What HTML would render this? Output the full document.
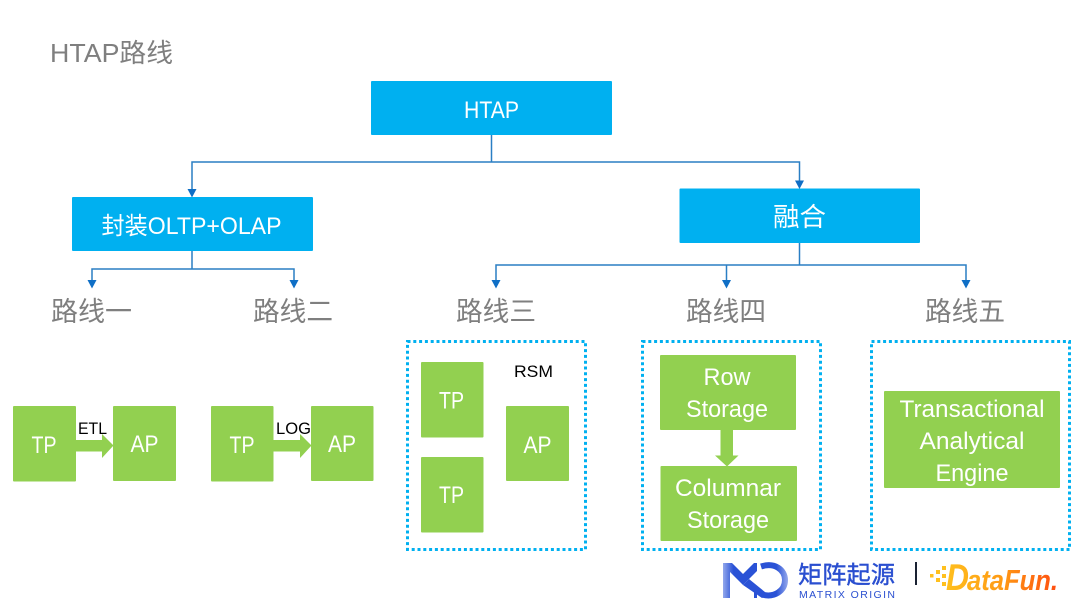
<!DOCTYPE html>
<html lang="zh">
<head>
<meta charset="utf-8">
<title>HTAP路线</title>
<style>
html,body{margin:0;padding:0;background:#fff;width:1080px;height:608px;overflow:hidden}
svg{display:block}
text{font-family:"Liberation Sans","Noto Sans CJK SC",sans-serif}
.w{fill:#fff;text-anchor:middle}
.g{fill:#7f7f7f;font-size:27px}
.b{fill:#000;font-size:17px}
.box{fill:#00b0f0}
.gr{fill:#92d050}
.ln{fill:none;stroke:#2a7fc4;stroke-width:1.5}
.ah{fill:#0f6fc6}
.dot{fill:none;stroke:#00b0f0;stroke-width:3;stroke-dasharray:3 2.8}
</style>
</head>
<body>
<svg width="1080" height="608" viewBox="0 0 1080 608" xmlns="http://www.w3.org/2000/svg">
<defs>
<linearGradient id="df" gradientUnits="userSpaceOnUse" x1="945" x2="1058" y1="0" y2="0"><stop offset="0" stop-color="#ffc01e"/><stop offset="0.5" stop-color="#ff9a14"/><stop offset="1" stop-color="#ff4d10"/></linearGradient>
<linearGradient id="mo1" gradientUnits="userSpaceOnUse" x1="722" x2="745" y1="0" y2="0"><stop offset="0" stop-color="#9db0ee"/><stop offset="0.5" stop-color="#2a52d6"/><stop offset="1" stop-color="#2a52d6"/></linearGradient>
<linearGradient id="mo2" gradientUnits="userSpaceOnUse" x1="760" x2="790" y1="0" y2="0"><stop offset="0" stop-color="#2a52d6"/><stop offset="0.55" stop-color="#2a52d6"/><stop offset="1" stop-color="#a9b9f0"/></linearGradient>
</defs>

<text x="50" y="62" font-size="26" fill="#7f7f7f" textLength="123" lengthAdjust="spacingAndGlyphs">HTAP路线</text>

<!-- connectors -->
<path class="ln" d="M491.5 135V162M192 191V162H799.5V182"/>
<path class="ln" d="M192 251V269M92 282V269H294V282"/>
<path class="ln" d="M799.5 243V265M496 282V265H966V282M726.5 265V282"/>
<path class="ah" d="M187.500 189H196.500L192 197.500ZM795 180.500H804L799.500 189ZM87.500 280H96.500L92 288.500ZM289.500 280H298.500L294 288.500ZM491.500 280H500.500L496 288.500ZM722 280H731L726.500 288.500ZM961.500 280H970.500L966 288.500Z"/>

<!-- blue boxes -->
<rect class="box" x="371" y="81" width="241" height="54" rx="1"/>
<text class="w" x="491.500" y="118" font-size="24" textLength="55" lengthAdjust="spacingAndGlyphs">HTAP</text>
<rect class="box" x="72" y="197" width="241" height="54" rx="1"/>
<text class="w" x="191.500" y="234" font-size="24" textLength="180" lengthAdjust="spacingAndGlyphs">封装OLTP+OLAP</text>
<rect class="box" x="679.500" y="188.500" width="240.500" height="54.500" rx="1"/>
<text class="w" x="799.500" y="226" font-size="26" textLength="53" lengthAdjust="spacingAndGlyphs">融合</text>

<!-- route labels -->
<text class="g" x="51" y="321" textLength="81" lengthAdjust="spacingAndGlyphs">路线一</text>
<text class="g" x="253" y="321" textLength="80" lengthAdjust="spacingAndGlyphs">路线二</text>
<text class="g" x="456" y="321" textLength="80" lengthAdjust="spacingAndGlyphs">路线三</text>
<text class="g" x="686" y="321" textLength="80" lengthAdjust="spacingAndGlyphs">路线四</text>
<text class="g" x="925" y="321" textLength="80" lengthAdjust="spacingAndGlyphs">路线五</text>

<!-- route 1 -->
<path class="gr" d="M76 440H102V434L113.500 445.500L102 458V451.500H76Z"/>
<rect class="gr" x="13" y="406" width="63" height="75.500" rx="1"/>
<rect class="gr" x="113" y="406" width="63" height="75" rx="1"/>
<text class="w" x="44" y="453" font-size="24" textLength="25" lengthAdjust="spacingAndGlyphs">TP</text>
<text class="w" x="144.500" y="452" font-size="24" textLength="28" lengthAdjust="spacingAndGlyphs">AP</text>
<text class="b" x="78" y="434" textLength="29" lengthAdjust="spacingAndGlyphs">ETL</text>

<!-- route 2 -->
<path class="gr" d="M273 440H300V434L311.500 445.500L300 458V451.500H273Z"/>
<rect class="gr" x="211" y="406" width="62.500" height="75.500" rx="1"/>
<rect class="gr" x="311" y="406" width="62.500" height="75" rx="1"/>
<text class="w" x="242" y="453" font-size="24" textLength="25" lengthAdjust="spacingAndGlyphs">TP</text>
<text class="w" x="342" y="452" font-size="24" textLength="28" lengthAdjust="spacingAndGlyphs">AP</text>
<text class="b" x="276" y="434" textLength="35" lengthAdjust="spacingAndGlyphs">LOG</text>

<!-- route 3 -->
<rect class="dot" x="407.500" y="341.500" width="178" height="208"/>
<rect class="gr" x="421" y="362" width="62.500" height="75.500" rx="1"/>
<rect class="gr" x="421" y="457" width="62.500" height="75.500" rx="1"/>
<rect class="gr" x="506" y="406" width="63" height="75" rx="1"/>
<text class="w" x="451.500" y="408.500" font-size="24" textLength="25" lengthAdjust="spacingAndGlyphs">TP</text>
<text class="w" x="451.500" y="503" font-size="24" textLength="25" lengthAdjust="spacingAndGlyphs">TP</text>
<text class="w" x="537.500" y="453" font-size="24" textLength="28" lengthAdjust="spacingAndGlyphs">AP</text>
<text class="b" x="514" y="377" textLength="39" lengthAdjust="spacingAndGlyphs">RSM</text>

<!-- route 4 -->
<rect class="dot" x="642.500" y="341.500" width="178" height="208"/>
<path class="gr" d="M720.500 429H733V455.500H738.500L727 466.500L715 455.500H720.500Z"/>
<rect class="gr" x="660" y="355" width="136" height="75" rx="1"/>
<rect class="gr" x="660.500" y="466" width="136.500" height="75" rx="1"/>
<text class="w" x="727" y="385" font-size="24" textLength="47" lengthAdjust="spacingAndGlyphs">Row</text>
<text class="w" x="727" y="417" font-size="24" textLength="82" lengthAdjust="spacingAndGlyphs">Storage</text>
<text class="w" x="728" y="496" font-size="24" textLength="106" lengthAdjust="spacingAndGlyphs">Columnar</text>
<text class="w" x="728" y="528" font-size="24" textLength="82" lengthAdjust="spacingAndGlyphs">Storage</text>

<!-- route 5 -->
<rect class="dot" x="871.500" y="341.500" width="198" height="208"/>
<rect class="gr" x="884" y="391" width="176" height="97" rx="1"/>
<text class="w" x="972" y="417" font-size="24" textLength="145" lengthAdjust="spacingAndGlyphs">Transactional</text>
<text class="w" x="972" y="449" font-size="24" textLength="105" lengthAdjust="spacingAndGlyphs">Analytical</text>
<text class="w" x="972" y="481" font-size="24" textLength="73" lengthAdjust="spacingAndGlyphs">Engine</text>

<!-- logos -->
<path fill="url(#mo1)" d="M723 563H732L743 574L754 563H757V571L743 585L730 572V598H723Z"/>
<path fill="#2a52d6" d="M743 585L749 579L768 594.500L762 598Z"/>
<rect x="754" y="589" width="3" height="9" fill="#2a52d6"/>
<path fill="none" stroke="url(#mo2)" stroke-width="6" d="M761 566.500C775 562 785 570 785 580C785 591 774 598 762 594.500"/>
<text x="798" y="583" font-size="24" fill="#2a4fd0" stroke="#2a4fd0" stroke-width="0.4" textLength="97" lengthAdjust="spacingAndGlyphs">矩阵起源</text>
<text x="799" y="598" font-size="10.500" fill="#2a4fd0" textLength="96">MATRIX ORIGIN</text>
<rect x="915" y="562" width="2" height="23" fill="#1a2233"/>
<g fill="#ffc01e">
<rect x="930" y="574" width="3.500" height="3.500"/><rect x="936" y="570" width="4" height="4"/><rect x="936" y="578" width="4" height="4"/><rect x="942" y="574" width="4" height="4"/><rect x="942" y="566" width="4" height="4"/><rect x="942" y="582" width="4" height="4"/>
</g>
<text x="946" y="590" font-size="37" font-weight="bold" font-style="italic" fill="url(#df)" textLength="23" lengthAdjust="spacingAndGlyphs">D</text>
<text x="967" y="590" font-size="29" font-weight="bold" font-style="italic" fill="url(#df)" textLength="91" lengthAdjust="spacingAndGlyphs">ataFun.</text>
</svg>
</body>
</html>
